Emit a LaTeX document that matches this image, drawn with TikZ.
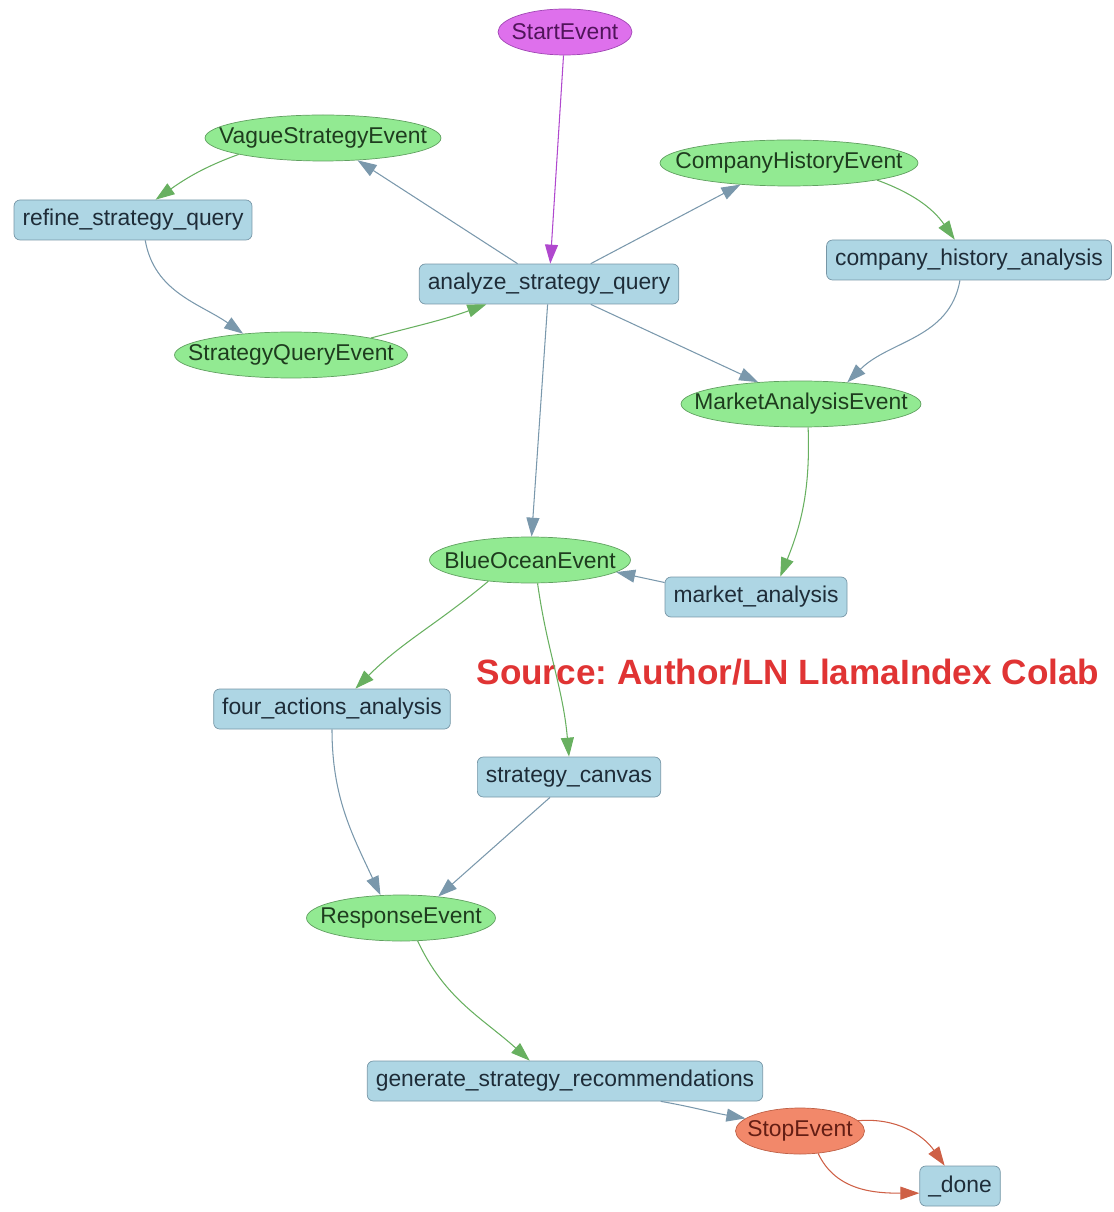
\documentclass[tikz,border=0pt]{standalone}
\usepackage{fontspec}
\setmainfont{Liberation Sans}
\usetikzlibrary{shapes.geometric,arrows.meta}

\definecolor{evfill}{RGB}{146,234,146}
\definecolor{evline}{RGB}{96,160,96}
\definecolor{stfill}{RGB}{174,214,228}
\definecolor{stline}{RGB}{118,150,166}
\definecolor{startfill}{RGB}{222,112,236}
\definecolor{startline}{RGB}{160,70,180}
\definecolor{stopfill}{RGB}{242,136,106}
\definecolor{stopline}{RGB}{190,96,70}
\definecolor{egreen}{RGB}{104,176,96}
\definecolor{eblue}{RGB}{122,152,172}
\definecolor{epurple}{RGB}{176,72,206}
\definecolor{ered}{RGB}{206,96,70}
\definecolor{srcred}{RGB}{224,52,52}

\newcommand{\lbl}[1]{\makebox[0pt]{#1}}

\tikzstyle{evnode} = [ellipse, draw=evline, fill=evfill, inner sep=0pt, minimum height=0.92cm, text={rgb,255:red,30;green,60;blue,30}]
\tikzstyle{stepbox} = [rectangle, rounded corners=0.12cm, draw=stline, fill=stfill, inner xsep=0.17cm, minimum height=0.8cm, text={rgb,255:red,30;green,44;blue,56}]
\tikzstyle{tip} = [-{Triangle[length=0.38cm,width=0.26cm]}]
\tikzstyle{arrowg} = [tip, line width=0.6pt, draw=egreen]
\tikzstyle{arrowb} = [tip, line width=0.6pt, draw=eblue]
\tikzstyle{arrowp} = [tip, line width=0.6pt, draw=epurple]
\tikzstyle{arrowr} = [tip, line width=0.6pt, draw=ered]

\begin{document}
\frenchspacing
\begin{tikzpicture}[x=0.02cm,y=-0.02cm,font=\fontsize{13}{15}\selectfont]
    \useasboundingbox (0,0) rectangle (1114,1212);
    \node[evnode, fill=startfill, draw=startline, text={rgb,255:red,80;green,20;blue,90}, minimum width=2.68cm] (start) at (565,32) {\lbl{StartEvent}};
    \node[evnode, minimum width=4.72cm] (vague) at (323,138) {\lbl{VagueStrategyEvent}};
    \node[evnode, minimum width=5.16cm] (history) at (789,163) {\lbl{CompanyHistoryEvent}};
    \node[stepbox] (refine) at (133,220) {refine\_strategy\_query};
    \node[stepbox] (histan) at (969,260) {company\_history\_analysis};
    \node[stepbox] (analyze) at (549,284) {analyze\_strategy\_query};
    \node[evnode, minimum width=4.66cm] (query) at (291,355) {\lbl{StrategyQueryEvent}};
    \node[evnode, minimum width=4.8cm] (market) at (801,404) {\lbl{MarketAnalysisEvent}};
    \node[evnode, minimum width=4.02cm] (ocean) at (530,560) {\lbl{BlueOceanEvent}};
    \node[stepbox] (markan) at (756,597) {market\_analysis};
    \node[text=srcred, font=\bfseries\fontsize{20}{24}\selectfont] (src) at (788,672) {Source: Author/LN LlamaIndex Colab};
    \node[stepbox] (four) at (332,709) {four\_actions\_analysis};
    \node[stepbox] (canvas) at (569,777) {strategy\_canvas};
    \node[evnode, minimum width=3.78cm] (response) at (401,918) {\lbl{ResponseEvent}};
    \node[stepbox] (generate) at (565,1081) {generate\_strategy\_recommendations};
    \node[evnode, fill=stopfill, draw=stopline, text={rgb,255:red,100;green,30;blue,20}, minimum width=2.58cm] (stop) at (800,1131) {\lbl{StopEvent}};
    \node[stepbox] (done) at (960,1186) {\_done};
    \draw [arrowp] (start) -- (analyze);
    \draw [arrowb] (analyze) -- (vague);
    \draw [arrowg] (vague.191) to[out=200,in=35] (refine.42);
    \draw [arrowb] (refine.-59) to[out=-80,in=145] (query.156);
    \draw [arrowg] (query.12) to[out=15,in=200] (analyze.198);
    \draw [arrowb] (analyze.26) -- (history.204);
    \draw [arrowg] (history.-11) to[out=-20,in=125] (histan.125);
    \draw [arrowb] (histan.-114) to[out=-100,in=45] (market.25);
    \draw [arrowb] (analyze.-26) -- (market.153);
    \draw [arrowb] (analyze) -- (ocean);
    \draw [arrowg] (market.-73) to[out=-88,in=68] (markan.40);
    \draw [arrowb] (markan.171) -- (ocean.-8);
    \draw [arrowg] (ocean.-153) to[out=-140,in=45] (four.41);
    \draw [arrowg] (ocean.-72) to[out=-82,in=95] (canvas.north);
    \draw [arrowb] (four.south) to[out=-90,in=115] (response.132);
    \draw [arrowb] (canvas.-133) -- (response.30);
    \draw [arrowg] (response.-54) to[out=-65,in=138] (generate.150);
    \draw [arrowb] (generate.-12) to[out=-10,in=170] (stop.167);
    \draw [arrowr] (stop.10) to[out=5,in=125] (done.127);
    \draw [arrowr] (stop.-51) to[out=-65,in=180] (done.190);
\end{tikzpicture}
\end{document}
